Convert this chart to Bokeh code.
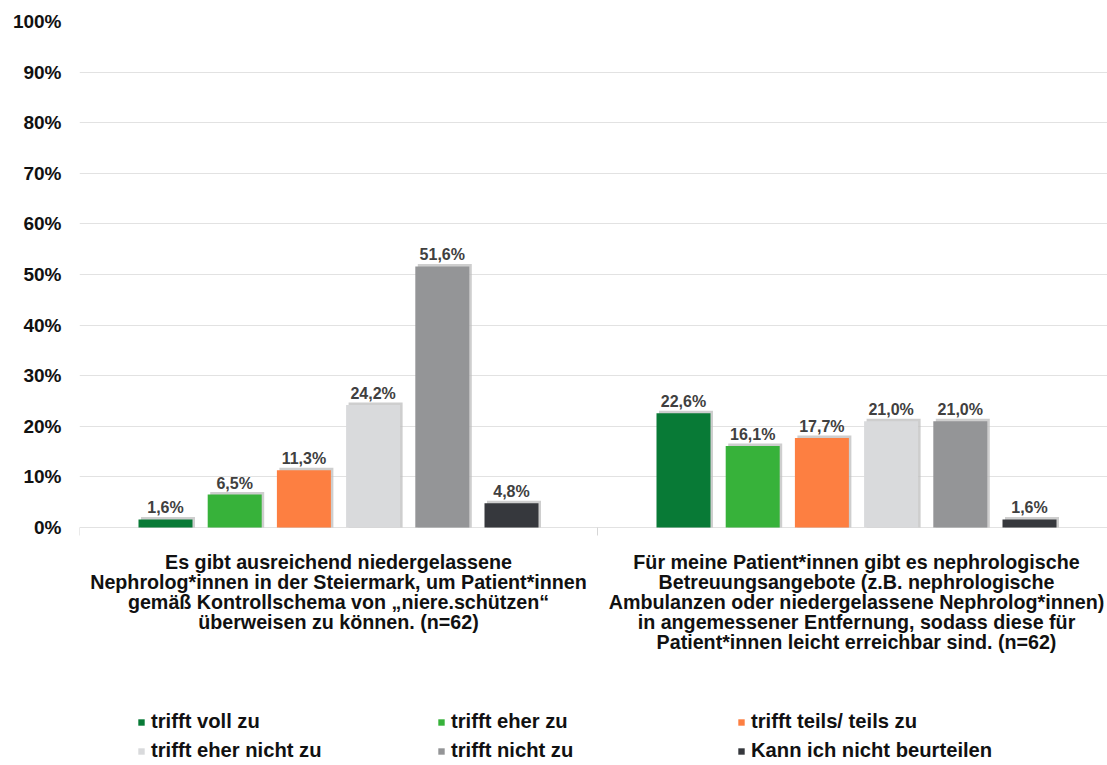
from bokeh.plotting import figure
from bokeh.models import Range1d, FixedTicker, Legend, LegendItem
from bokeh.core.properties import value
from bokeh.embed import file_html
from bokeh.resources import INLINE

# ---- data -------------------------------------------------------------
statements = [
    "Es gibt ausreichend niedergelassene\n"
    "Nephrolog*innen in der Steiermark, um Patient*innen\n"
    "gemäß Kontrollschema von „niere.schützen“\n"
    "überweisen zu können. (n=62)",
    "Für meine Patient*innen gibt es nephrologische\n"
    "Betreuungsangebote (z.B. nephrologische\n"
    "Ambulanzen oder niedergelassene Nephrolog*innen)\n"
    "in angemessener Entfernung, sodass diese für\n"
    "Patient*innen leicht erreichbar sind. (n=62)",
]
answers = [
    "trifft voll zu",
    "trifft eher zu",
    "trifft teils/ teils zu",
    "trifft eher nicht zu",
    "trifft nicht zu",
    "Kann ich nicht beurteilen",
]
trifft_voll_zu = [1.6, 22.6]
trifft_eher_zu = [6.5, 16.1]
trifft_teils_zu = [11.3, 17.7]
trifft_eher_nicht_zu = [24.2, 21.0]
trifft_nicht_zu = [51.6, 21.0]
kann_nicht_beurteilen = [4.8, 1.6]
y_ticks = [0, 10, 20, 30, 40, 50, 60, 70, 80, 90, 100]

series = [trifft_voll_zu, trifft_eher_zu, trifft_teils_zu,
          trifft_eher_nicht_zu, trifft_nicht_zu, kann_nicht_beurteilen]
colors = ["#087a36", "#37b23a", "#fd7f41", "#d9dadc", "#949597", "#36383d"]

# ---- geometry (pixels) ------------------------------------------------
W, H = 1107, 765
LEFT, TOP = 79, 21
ZERO_Y = 527                       # screen y of the 0 % line
PX_PER_CAT = 518.0
PX_PER_PCT = (ZERO_Y - TOP) / 100.0
BAR_PITCH = 69.2 / PX_PER_CAT
BAR_WIDTH = 54.0 / PX_PER_CAT
SHADOW_DX = 2.5 / PX_PER_CAT
SHADOW_DY = 2.5 / PX_PER_PCT

FONT = value("Liberation Sans")

x_range = Range1d(0, (W - LEFT) / PX_PER_CAT)
y_range = Range1d(-(H - ZERO_Y) / PX_PER_PCT, 100)

p = figure(width=W, height=H, x_range=x_range, y_range=y_range,
           x_axis_location=None, output_backend="svg", toolbar_location=None,
           min_border_left=LEFT, min_border_right=0, min_border_top=TOP,
           min_border_bottom=0)
p.outline_line_color = None
p.background_fill_color = "white"
p.border_fill_color = "white"

# y axis: percentage labels only
yax = p.yaxis[0]
yax.ticker = FixedTicker(ticks=y_ticks, minor_ticks=[])
yax.major_label_overrides = {t: f"{t}%" for t in y_ticks}
yax.axis_line_color = None
yax.major_tick_line_color = None
yax.minor_tick_line_color = None
yax.major_tick_out = 0
yax.major_tick_in = 0
yax.major_label_standoff = 18
yax.major_label_text_font = "Liberation Sans"
yax.major_label_text_font_style = "bold"
yax.major_label_text_font_size = "19px"
yax.major_label_text_color = "#111111"

p.xgrid.visible = False
p.ygrid.ticker = FixedTicker(ticks=y_ticks, minor_ticks=[])
p.ygrid.grid_line_color = "#e2e2e2"
p.ygrid.grid_line_width = 1

# separators below the baseline between the two statements
edges = list(range(len(statements)))
p.segment(x0=edges, x1=edges, y0=[0] * len(edges),
          y1=[-8 / PX_PER_PCT] * len(edges), line_color="#d6d6d6", line_width=1)

# ---- bars --------------------------------------------------------------
group_centers = [g + 0.5 for g in range(len(statements))]
legend_items = []
for i, (vals, color, name) in enumerate(zip(series, colors, answers)):
    xs = [c + (i - 2.5) * BAR_PITCH for c in group_centers]
    # soft grey edge on top / right of each bar
    p.vbar(x=[x + SHADOW_DX for x in xs], top=[v + SHADOW_DY for v in vals],
           bottom=0, width=BAR_WIDTH, fill_color="#bdbdbd", fill_alpha=0.75,
           line_color=None)
    r = p.vbar(x=xs, top=vals, bottom=0, width=BAR_WIDTH,
               fill_color=color, line_color=None)
    legend_items.append(LegendItem(label=name, renderers=[r]))
    p.text(x=xs, y=vals, text=[f"{v:.1f}".replace(".", ",") + "%" for v in vals],
           text_align="center", text_baseline="bottom", y_offset=-3,
           text_font=FONT, text_font_style="bold", text_font_size="16px",
           text_color="#404040")

# ---- statement labels under the baseline ------------------------------
p.text(x=group_centers, y=[0] * len(statements), text=statements,
       text_align="center", text_baseline="top", y_offset=23,
       text_font=FONT, text_font_style="bold", text_font_size="19.7px",
       text_line_height=0.91, text_color="#111111")

# ---- legend ------------------------------------------------------------
legend = Legend(items=legend_items, location=(58, 0), orientation="horizontal",
                ncols=3, glyph_width=8, glyph_height=8, label_standoff=6,
                label_width=286, label_height=29, spacing=0, padding=0,
                margin=0, border_line_color=None, background_fill_alpha=0,
                label_text_font="Liberation Sans", label_text_font_style="bold",
                label_text_font_size="20.2px", label_text_color="#111111")
p.add_layout(legend)

open("out.html", "w").write(file_html(p, INLINE))
